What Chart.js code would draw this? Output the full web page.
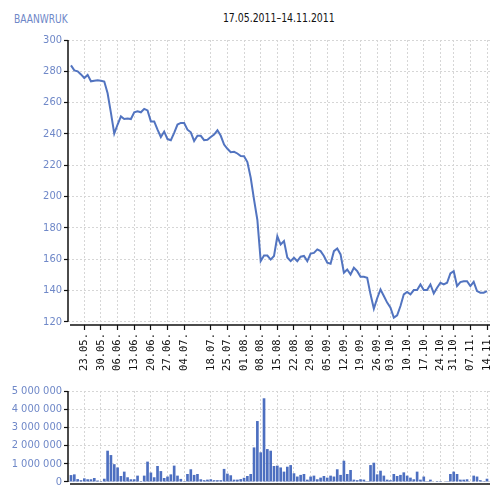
<!DOCTYPE html>
<html>
<head>
<meta charset="utf-8">
<script src="https://cdn.jsdelivr.net/npm/chart.js@4/dist/chart.umd.min.js"></script>
<style>
    body {
        margin: 0;
        background: #fff;
        width: 490px;
        height: 485px;
        overflow: hidden;
        position: relative;
    }
    #ticker {
        position: absolute;
        left: 14px;
        top: 12px;
        font: 11.5px 'DejaVu Sans Condensed', sans-serif;
        color: #6f88c8;
        transform: scaleX(0.88);
        transform-origin: left center;
    }
    #period {
        position: absolute;
        left: 68px;
        width: 422px;
        top: 10px;
        text-align: center;
        font: 13px 'DejaVu Sans Condensed', sans-serif;
        color: #111;
        transform: scaleX(0.8);
        transform-origin: 210px center;
    }
    #priceChart { position: absolute; left: 0; top: 0; }
    #volumeChart { position: absolute; left: 0; top: 380px; }
</style>
</head>
<body>
<div id="ticker">BAANWRUK</div>
<div id="period">17.05.2011–14.11.2011</div>
<canvas id="priceChart" width="490" height="380"></canvas>
<canvas id="volumeChart" width="490" height="105"></canvas>
<script>
// trading days (dd.mm), 2011
const dates = [
    '17.05', '18.05', '19.05', '20.05', '23.05', '24.05', '25.05', '26.05', '27.05', '30.05', '31.05',
    '01.06', '02.06', '03.06', '06.06', '07.06', '08.06', '09.06', '10.06', '13.06', '14.06', '15.06',
    '16.06', '17.06', '20.06', '21.06', '22.06', '23.06', '24.06', '27.06', '28.06', '29.06', '30.06',
    '01.07', '04.07', '05.07', '06.07', '07.07', '08.07', '13.07', '14.07', '15.07', '18.07', '19.07',
    '20.07', '21.07', '22.07', '25.07', '26.07', '27.07', '28.07', '29.07',
    '01.08', '02.08', '03.08', '04.08', '05.08', '08.08', '09.08', '10.08', '11.08', '12.08', '15.08',
    '16.08', '17.08', '18.08', '19.08', '22.08', '23.08', '24.08', '25.08', '26.08', '29.08', '30.08', '31.08',
    '01.09', '02.09', '05.09', '06.09', '07.09', '08.09', '09.09', '12.09', '13.09', '14.09', '15.09',
    '16.09', '19.09', '20.09', '21.09', '22.09', '23.09', '26.09', '27.09', '28.09', '29.09',
    '03.10', '04.10', '05.10', '06.10', '07.10', '10.10', '11.10', '12.10', '13.10', '14.10', '17.10',
    '18.10', '19.10', '20.10', '21.10', '24.10', '25.10', '26.10', '27.10', '31.10',
    '01.11', '02.11', '03.11', '04.11', '07.11', '08.11', '09.11', '10.11', '11.11', '14.11'
];

const prices = [
    283.8, 280.6, 280, 278, 275.7, 277.7, 273.6, 274, 274.3, 274, 273.5,
    266, 253.4, 240.2, 246, 251.2, 249.5, 249.8, 249.5, 253.8, 254.4, 253.8,
    256, 255, 248, 248, 242.7, 238, 241.5, 236.7, 236, 240.6, 246,
    247, 247, 242.7, 241, 235.5, 238.8, 238.8, 236, 236.2, 238, 239.6,
    242.3, 238.8, 233.2, 230.5, 228.3, 228.6, 227.5, 225.8,
    225.7, 222, 212, 198, 185, 158.7, 162.3, 162.3, 159.7, 162, 174.6,
    169.3, 171.5, 161, 158.7, 160.9, 158.7, 161.5, 162, 158.7, 163.5, 164, 166.2,
    165.1, 162, 157.7, 157, 165.1, 166.8, 163, 151.3, 153.4, 150.2, 154.5,
    152.3, 148.7, 148.7, 148.1, 137.5, 128.3, 135, 140.6, 136.4, 132.2,
    129, 122.6, 124.1, 130, 137.5, 139, 137.5, 140.2, 140.2, 143.8, 140.2,
    140.2, 143.8, 138.1, 141.7, 144.9, 143.8, 144.9, 150.8, 152.3,
    142.8, 145.3, 145.9, 145.9, 142.8, 145.5, 139.6, 138.5, 138.5, 139.5
];

const volumes = [
    380000, 420000, 160000, 100000, 200000, 150000, 150000, 220000, 80000, 50000, 180000,
    1720000, 1480000, 980000, 800000, 330000, 570000, 260000, 150000, 150000, 350000, 50000,
    350000, 1120000, 520000, 260000, 880000, 600000, 220000, 300000, 420000, 900000, 350000,
    170000, 50000, 440000, 700000, 390000, 440000, 150000, 100000, 130000, 150000, 100000,
    100000, 100000, 720000, 460000, 370000, 130000, 130000, 160000,
    230000, 330000, 440000, 1900000, 3350000, 1630000, 4600000, 1810000, 1720000, 880000, 900000,
    800000, 570000, 840000, 930000, 480000, 300000, 390000, 440000, 130000, 300000, 350000, 150000,
    240000, 330000, 240000, 350000, 300000, 700000, 390000, 1170000, 440000, 660000, 130000,
    100000, 150000, 130000, 50000, 930000, 1060000, 420000, 620000, 350000, 130000,
    100000, 440000, 330000, 390000, 530000, 350000, 240000, 150000, 570000, 130000, 300000,
    50000, 130000, 30000, 50000, 50000, 30000, 50000, 440000, 570000,
    440000, 130000, 130000, 150000, 30000, 350000, 300000, 100000, 50000, 180000
];

// weekly labels on the time axis
const tickLabels = [
    '23.05', '30.05', '06.06', '13.06', '20.06', '27.06', '04.07', '18.07', '25.07',
    '01.08', '08.08', '15.08', '22.08', '29.08', '05.09', '12.09', '19.09', '26.09',
    '03.10', '10.10', '17.10', '24.10', '31.10', '07.11', '14.11'
];
const priceTicks = [120, 140, 160, 180, 200, 220, 240, 260, 280, 300];
const volumeTicks = [0, 1000000, 2000000, 3000000, 4000000, 5000000];

const tickIdx = tickLabels.map(d => dates.indexOf(d));

const blueText = '#6f88c8';
const gridColor = '#d6d6d6';

// black axis lines, detached a little at the corner
const axisLines = {
    id: 'axisLines',
    afterDraw(chart, args, opts) {
        const { ctx, chartArea: a, scales } = chart;
        const yb = scales.y.getPixelForValue(opts.floor);
        ctx.save();
        ctx.strokeStyle = '#111';
        ctx.lineWidth = 1.5;
        ctx.beginPath();
        ctx.moveTo(a.left, a.top);
        ctx.lineTo(a.left, yb);
        ctx.moveTo(a.left + 2, a.bottom);
        ctx.lineTo(a.right, a.bottom);
        ctx.stroke();
        ctx.restore();
    }
};

function xScale(showLabels) {
    return {
        type: 'linear',
        offset: false,
        min: -0.9,
        max: 125.9,
        afterBuildTicks: (scale) => {
            scale.ticks = tickIdx.map(v => ({ value: v }));
        },
        afterFit: (scale) => {
            scale.height = showLabels ? 55 : 0;
            scale.paddingLeft = 0;
            scale.paddingRight = 0;
        },
        border: { display: false, dash: [2, 2] },
        grid: {
            color: gridColor,
            offset: false,
            drawTicks: showLabels,
            tickColor: '#111',
            tickLength: 5,
            tickWidth: 1.2
        },
        ticks: {
            display: showLabels,
            autoSkip: false,
            maxRotation: 90,
            minRotation: 90,
            padding: 3,
            color: '#111',
            font: { family: "'DejaVu Sans Mono', monospace", size: 10.5 },
            callback: (value) => {
                const i = tickIdx.indexOf(value);
                return i >= 0 ? tickLabels[i] + '.' : null;
            }
        }
    };
}

function yScale(min, max, ticks, fmt) {
    return {
        min: min,
        max: max,
        afterBuildTicks: (scale) => {
            scale.ticks = ticks.map(v => ({ value: v }));
        },
        afterFit: (scale) => {
            scale.width = 68;
            scale.paddingTop = 0;
            scale.paddingBottom = 0;
        },
        border: { display: false, dash: [2, 2] },
        grid: {
            color: gridColor,
            tickColor: '#111',
            tickLength: 4,
            tickWidth: 1.2
        },
        ticks: {
            padding: 2,
            color: blueText,
            font: { family: "'DejaVu Sans Condensed', sans-serif", size: 11 },
            callback: fmt
        }
    };
}

new Chart(document.getElementById('priceChart'), {
    type: 'line',
    data: {
        datasets: [{
            data: prices.map((p, i) => ({ x: i, y: p })),
            borderColor: '#5274c0',
            borderWidth: 2,
            pointRadius: 0,
            tension: 0
        }]
    },
    options: {
        responsive: false,
        animation: false,
        layout: { padding: { top: 40, left: 0, right: 0, bottom: 0 } },
        scales: {
            x: xScale(true),
            y: yScale(117.9, 300, priceTicks, v => v)
        },
        plugins: {
            legend: { display: false },
            tooltip: { enabled: false },
            axisLines: { floor: 120 }
        }
    },
    plugins: [axisLines]
});

new Chart(document.getElementById('volumeChart'), {
    type: 'bar',
    data: {
        datasets: [{
            data: volumes.map((v, i) => ({ x: i, y: v })),
            backgroundColor: '#4d6fc0',
            borderWidth: 0,
            barPercentage: 0.8,
            categoryPercentage: 1
        }]
    },
    options: {
        responsive: false,
        animation: false,
        layout: { padding: { top: 11, left: 0, right: 0, bottom: 1 } },
        scales: {
            x: xScale(false),
            y: yScale(-110000, 5000000, volumeTicks,
                v => String(v).replace(/\B(?=(\d{3})+(?!\d))/g, ' '))
        },
        plugins: {
            legend: { display: false },
            tooltip: { enabled: false },
            axisLines: { floor: 0 }
        }
    },
    plugins: [axisLines]
});
</script>
</body>
</html>
